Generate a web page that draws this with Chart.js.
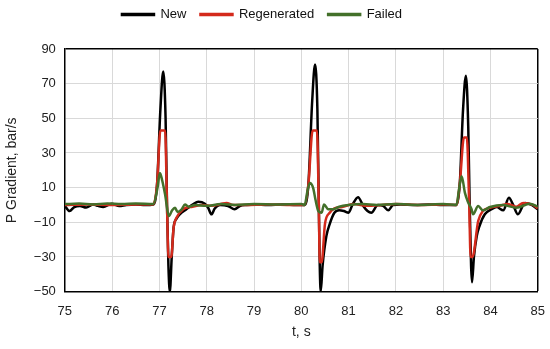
<!DOCTYPE html>
<html>
<head>
<meta charset="utf-8">
<script src="https://cdn.jsdelivr.net/npm/chart.js@4.4.1/dist/chart.umd.min.js"></script>
<style>
    html, body { margin: 0; padding: 0; background: #fff; }
    #wrap { width: 550px; height: 349px; }
</style>
</head>
<body>
<div id="wrap"><canvas id="chart"></canvas></div>
<script>
// --- Data ---
const xTicks = [75, 76, 77, 78, 79, 80, 81, 82, 83, 84, 85];
const yTicks = [-50, -30, -10, 10, 30, 50, 70, 90];
const seriesNames = ['New', 'Regenerated', 'Failed'];

const newT = [75.00, 75.10, 75.20, 75.32, 75.45, 75.60, 75.70, 75.81, 75.99, 76.15, 76.30, 76.50, 76.70, 76.87,
    76.95, 77.02, 77.08, 77.13, 77.16, 77.19, 77.22, 77.26, 77.30, 77.36, 77.43, 77.57, 77.71, 77.82, 77.96,
    78.03, 78.10, 78.17, 78.28, 78.45, 78.59, 78.70, 78.85, 79.00, 79.30, 79.60, 79.90, 80.07,
    80.15, 80.23, 80.29, 80.34, 80.37, 80.39, 80.41, 80.45, 80.53, 80.60, 80.70, 80.80, 80.90, 81.00,
    81.08, 81.20, 81.31, 81.40, 81.48, 81.62, 81.73, 81.84, 81.94, 82.10, 82.40, 82.70, 83.00, 83.28,
    83.35, 83.42, 83.48, 83.53, 83.56, 83.59, 83.61, 83.65, 83.71, 83.77, 83.88, 84.02, 84.13, 84.27,
    84.39, 84.48, 84.58, 84.73, 84.87, 85.00];
const newY = [-0.5, -3.5, -1.2, -0.6, -1.5, 0.3, -0.5, -1.2, 0.7, -0.6, 0, 0.3, 0, 0.3,
    12, 55, 77, 50, 0, -35, -50, -30, -13, -8, -5.4, -2.5, 0.3, 1.8, 0.7,
    -1.6, -5.4, -2, 0, -0.6, -2.5, -0.6, 0, 0.3, 0, 0.3, 0, 0,
    12, 60, 81, 55, 0, -35, -50, -35, -18, -11, -4.5, -3, -3.5, -4.5,
    0, 4.5, -0.6, -3.5, -4.5, 0, -0.5, -3.1, 0, 0.3, 0, 0.3, 0, 0,
    12, 55, 74.5, 45, 0, -35, -44.6, -30, -18, -12, -5.4, -2.5, -1.2, -3.1,
    4.1, 0, -5.4, 1.2, 0, -2.5];

const regenT = [75.00, 75.50, 76.00, 76.50, 76.87, 76.95, 77.02, 77.12, 77.16, 77.19, 77.25, 77.30, 77.36, 77.50,
    77.70, 77.90, 78.10, 78.30, 78.42, 78.55, 78.80, 79.30, 79.80, 80.07,
    80.15, 80.24, 80.33, 80.37, 80.39, 80.43, 80.50, 80.60, 80.70, 80.86, 81.10, 81.40, 81.70, 82.00,
    82.50, 83.00, 83.28, 83.35, 83.44, 83.50, 83.55, 83.58, 83.62, 83.74, 83.84, 83.99, 84.20, 84.37,
    84.55, 84.69, 84.90, 85.00];
const regenY = [0, 0.3, 0, 0.3, 0.3, 12, 43, 43, 0, -30, -30, -13, -7.4, -2.5,
    -1, 0, -0.5, 0.5, 1.2, 0, 0, 0.3, 0, 0,
    12, 43, 43, 0, -33, -33, -11, -4.5, -2, -1.2, 0.5, -0.5, 0, 0.5,
    0, 0.3, 0, 12, 39, 39, 0, -30, -30, -9.3, -3.5, -1.6, -0.5, 0.6,
    -1, 1.2, 0, -2];

const failT = [75.00, 75.30, 75.60, 75.90, 76.20, 76.50, 76.87, 76.96, 77.01, 77.06, 77.12, 77.20, 77.27, 77.33,
    77.38, 77.47, 77.54, 77.62, 77.75, 78.00, 78.30, 78.60, 79.00, 79.50, 80.00, 80.07,
    80.13, 80.18, 80.25, 80.30, 80.36, 80.43, 80.48, 80.57, 80.67, 80.80, 81.00, 81.30, 81.60, 82.00,
    82.50, 83.00, 83.28, 83.34, 83.39, 83.46, 83.52, 83.60, 83.63, 83.74, 83.84, 83.99, 84.26, 84.55,
    84.83, 85.00];
const failY = [0.5, 0.8, 0.3, 0.8, 0.5, 0.8, 0.5, 10, 18.5, 14, 6, -6.4, -3, -1.6,
    -4, -2.5, 0.3, -1, 0, -0.5, 0.5, 0, 0.5, 0.3, 0.5, 0,
    8, 12.7, 9.9, 3, -3.5, -4.5, 0.3, -2.5, -2.5, -1, 0, 0.5, 0, 0.5,
    0, 0.5, 0, 10, 16.6, 7, 2, -2.5, -5.4, -0.6, -3.1, -1.2, 0, -1.6,
    0.7, -1];

const colors = ['#000000', '#d42a1c', '#43702a'];

const toPoints = (ts, ys) => ts.map((t, i) => ({ x: t, y: ys[i] }));

// --- Legend: extra room below it, drawn a bit higher and left ---
const legendTweak = {
    id: 'legendTweak',
    beforeInit(chart) {
        const fit = chart.legend.fit;
        chart.legend.fit = function () {
            fit.bind(chart.legend)();
            this.height += 12;
        };
    },
    afterLayout(chart) {
        chart.legend.left -= 12;
        chart.legend.right -= 12;
        chart.legend.top -= 6;
    }
};

const edgeColor = (edge) => (ctx) => (ctx.tick && ctx.tick.value === edge ? '#000000' : '#d9d9d9');
const edgeWidth = (edge) => (ctx) => (ctx.tick && ctx.tick.value === edge ? 1.5 : 1);

const makeDataset = (label, ts, ys, color, order) => ({
    label,
    data: toPoints(ts, ys),
    borderColor: color,
    backgroundColor: color,
    borderWidth: 2.5,
    pointRadius: 0,
    cubicInterpolationMode: 'monotone',
    order
});

const fontFamily = '"Liberation Sans", Arial, sans-serif';

new Chart(document.getElementById('chart'), {
    type: 'line',
    data: {
        datasets: [
            makeDataset(seriesNames[0], newT, newY, colors[0], 3),
            makeDataset(seriesNames[1], regenT, regenY, colors[1], 2),
            makeDataset(seriesNames[2], failT, failY, colors[2], 1)
        ]
    },
    options: {
        responsive: true,
        maintainAspectRatio: false,
        animation: false,
        layout: { padding: { left: 0, right: 2, top: 0, bottom: 6 } },
        plugins: {
            tooltip: { enabled: false },
            legend: {
                position: 'top',
                labels: {
                    boxWidth: 32,
                    boxHeight: 1,
                    padding: 14,
                    color: '#111',
                    font: { size: 13, family: fontFamily },
                    sort: (a, b) => a.datasetIndex - b.datasetIndex
                }
            }
        },
        scales: {
            x: {
                type: 'linear',
                min: xTicks[0],
                max: xTicks[xTicks.length - 1],
                afterBuildTicks: (axis) => { axis.ticks = xTicks.map(v => ({ value: v })); },
                grid: { color: edgeColor(85), lineWidth: edgeWidth(85), drawTicks: true, tickLength: 7, tickColor: 'rgba(0,0,0,0)' },
                border: { color: '#000', width: 1.5 },
                ticks: { padding: 5, color: '#222', font: { size: 13, family: fontFamily } },
                title: { display: true, text: 't, s', color: '#222', padding: { top: 0, bottom: 2 },
                    font: { size: 14, family: fontFamily } }
            },
            y: {
                min: yTicks[0],
                max: yTicks[yTicks.length - 1],
                afterBuildTicks: (axis) => { axis.ticks = yTicks.map(v => ({ value: v })); },
                grid: { color: edgeColor(90), lineWidth: edgeWidth(90), drawTicks: false },
                border: { color: '#000', width: 1.5 },
                ticks: {
                    padding: 9,
                    color: '#222',
                    font: { size: 13, family: fontFamily },
                    callback: (v) => String(v).replace('-', '\u2212')
                },
                title: { display: true, text: 'P Gradient, bar/s', color: '#222',
                    font: { size: 14, family: fontFamily } }
            }
        }
    },
    plugins: [legendTweak]
});
</script>
</body>
</html>
